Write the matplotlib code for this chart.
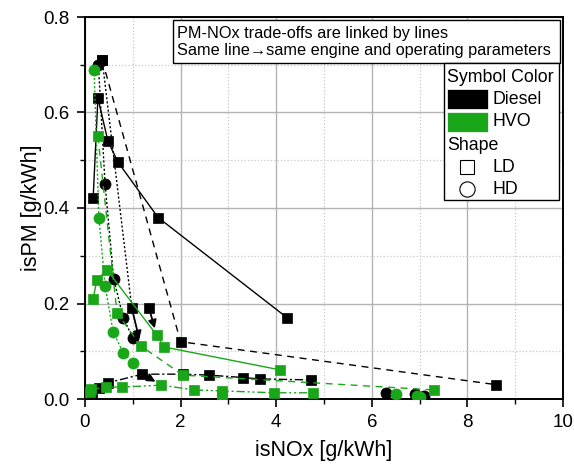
import matplotlib
matplotlib.use("Agg")
import matplotlib.pyplot as plt
from matplotlib.ticker import MultipleLocator, FormatStrFormatter
from matplotlib.patches import Rectangle
from matplotlib.lines import Line2D

plt.rcParams['font.family'] = ['Liberation Sans', 'DejaVu Sans']

BLACK = '#000000'
GREEN = '#19a619'

# Diesel LD, solid
d_ld_solid_x = [0.17, 0.27, 0.48, 0.69, 1.53, 4.23]
d_ld_solid_y = [0.42, 0.63, 0.54, 0.496, 0.38, 0.17]
# Diesel LD, dashed
d_ld_dash_x = [0.36, 2.0, 8.6]
d_ld_dash_y = [0.71, 0.12, 0.03]
# Diesel LD, dotted
d_ld_dot_x = [0.36, 0.98]
d_ld_dot_y = [0.71, 0.19]
# Diesel LD single point
d_ld_single_x = [1.34]
d_ld_single_y = [0.19]
# Diesel LD, dash-dot
d_ld_dd_x = [0.15, 0.29, 0.48, 1.2, 2.05, 2.6, 3.3, 3.66, 4.73]
d_ld_dd_y = [0.01, 0.023, 0.034, 0.052, 0.052, 0.05, 0.045, 0.042, 0.04]
# Diesel HD, dotted
d_hd_dot_x = [0.28, 0.42, 0.6, 0.8, 1.0]
d_hd_dot_y = [0.70, 0.45, 0.252, 0.17, 0.128]
# Diesel HD, points
d_hd_pts_x = [6.3, 6.9, 7.1]
d_hd_pts_y = [0.013, 0.011, 0.007]

# HVO LD, solid
h_ld_solid_x = [0.17, 0.25, 0.46, 1.5, 1.65, 4.08]
h_ld_solid_y = [0.21, 0.25, 0.27, 0.134, 0.109, 0.061]
# HVO LD, dashed
h_ld_dash_x = [0.27, 0.67, 1.17, 2.05, 7.3]
h_ld_dash_y = [0.55, 0.18, 0.111, 0.05, 0.019]
# HVO LD, dash-dot-dot
h_ld_ddd_x = [0.13, 0.44, 0.77, 1.6, 2.28, 2.86, 3.95, 4.77]
h_ld_ddd_y = [0.02, 0.025, 0.025, 0.029, 0.019, 0.017, 0.013, 0.013]
h_ld_extra_x = [0.1, 2.86]
h_ld_extra_y = [0.015, 0.008]
# HVO HD, dotted
h_hd_dot_x = [0.19, 0.29, 0.42, 0.59, 0.8, 1.0]
h_hd_dot_y = [0.69, 0.38, 0.237, 0.14, 0.097, 0.076]
# HVO HD points
h_hd_pts_x = [6.5, 6.95, 7.0]
h_hd_pts_y = [0.01, 0.006, 0.005]

# arrows Diesel -> HVO
arrow_from_x = [0.98, 1.34, 1.2]
arrow_from_y = [0.19, 0.19, 0.052]
arrow_to_x = [1.17, 1.5, 1.6]
arrow_to_y = [0.111, 0.134, 0.029]

note_text = 'PM-NOx trade-offs are linked by lines\nSame line\u2192same engine and operating parameters'
color_title = 'Symbol Color'
color_labels = ['Diesel', 'HVO']
shape_title = 'Shape'
shape_labels = ['LD', 'HD']

W, H = 574, 466
fig = plt.figure(figsize=(W / 100, H / 100), dpi=100)
ax = fig.add_axes([85 / W, 1 - 399 / H, 478 / W, 382 / H])


def fx(px):
    return px / W


def fy(py):
    return 1 - py / H


ms_sq = 7
ms_ci = 8
lw = 1.0


def series(x, y, color, marker, ls, ms):
    ax.plot(x, y, color=color, marker=marker, linestyle=ls, linewidth=lw,
            markersize=ms, markeredgewidth=0.5, markeredgecolor=color, zorder=3)


series(d_ld_solid_x, d_ld_solid_y, BLACK, 's', '-', ms_sq)
series(d_ld_dash_x, d_ld_dash_y, BLACK, 's', (0, (5, 4)), ms_sq)
series(d_ld_dot_x, d_ld_dot_y, BLACK, 's', (0, (1.5, 1.5)), ms_sq)
series(d_ld_single_x, d_ld_single_y, BLACK, 's', 'none', ms_sq)
series(d_ld_dd_x, d_ld_dd_y, BLACK, 's', (0, (6, 2, 1.5, 2)), ms_sq)
series(d_hd_dot_x, d_hd_dot_y, BLACK, 'o', (0, (1.5, 1.5)), ms_ci)
series(d_hd_pts_x, d_hd_pts_y, BLACK, 'o', 'none', ms_ci)

series(h_ld_solid_x, h_ld_solid_y, GREEN, 's', '-', ms_sq)
series(h_ld_dash_x, h_ld_dash_y, GREEN, 's', (0, (5, 4)), ms_sq)
series(h_ld_ddd_x, h_ld_ddd_y, GREEN, 's', (0, (6, 2, 1.5, 2, 1.5, 2)), ms_sq)
series(h_ld_extra_x, h_ld_extra_y, GREEN, 's', 'none', ms_sq)
series(h_hd_dot_x, h_hd_dot_y, GREEN, 'o', (0, (1.5, 1.5)), ms_ci)
series(h_hd_pts_x, h_hd_pts_y, GREEN, 'o', 'none', ms_ci)

for x0, y0, x1, y1 in zip(arrow_from_x, arrow_from_y, arrow_to_x, arrow_to_y):
    ax.annotate('', xy=(x1, y1), xytext=(x0, y0),
                arrowprops=dict(arrowstyle='-|>', color='black', lw=1.3,
                                mutation_scale=12, shrinkA=4, shrinkB=5),
                zorder=4)

ax.set_xlim(0, 10)
ax.set_ylim(0, 0.8)
ax.xaxis.set_major_locator(MultipleLocator(2))
ax.xaxis.set_minor_locator(MultipleLocator(1))
ax.yaxis.set_major_locator(MultipleLocator(0.2))
ax.yaxis.set_minor_locator(MultipleLocator(0.1))
ax.xaxis.set_major_formatter(FormatStrFormatter('%d'))
ax.yaxis.set_major_formatter(FormatStrFormatter('%.1f'))
ax.grid(which='major', color='#b4b4b4', linestyle='-', linewidth=1.0, zorder=0)
ax.grid(which='minor', color='#c8c8c8', linestyle=':', linewidth=0.9, zorder=0)
ax.set_axisbelow(True)
ax.tick_params(which='major', direction='out', length=6, width=1.2,
               labelsize=13.5, pad=5)
ax.tick_params(which='minor', direction='out', length=3.5, width=1.0)
for s in ax.spines.values():
    s.set_linewidth(1.4)
ax.set_xlabel('isNOx [g/kWh]', fontsize=15.5, labelpad=6)
ax.set_ylabel('isPM [g/kWh]', fontsize=15.5, labelpad=1)

# note box
fig.patches.append(Rectangle((fx(173), fy(63)), fx(560) - fx(173), fy(20) - fy(63),
                             transform=fig.transFigure, facecolor='white',
                             edgecolor='black', linewidth=1.0, zorder=5))
fig.text(fx(177), fy(42), note_text, ha='left', va='center', fontsize=11.7,
         linespacing=1.2, zorder=6)

# manual legend
fig.patches.append(Rectangle((fx(444), fy(200)), fx(559) - fx(444), fy(63) - fy(200),
                             transform=fig.transFigure, facecolor='white',
                             edgecolor='black', linewidth=1.0, zorder=5))
fs_leg = 12.8
fig.text(fx(447), fy(78), color_title, ha='left', va='center', fontsize=fs_leg, zorder=6)
for i, (lab, col) in enumerate(zip(color_labels, [BLACK, GREEN])):
    yc = 99 + 23 * i
    fig.patches.append(Rectangle((fx(447), fy(yc + 10)), fx(488) - fx(447), fy(yc - 10) - fy(yc + 10),
                                 transform=fig.transFigure, facecolor=col,
                                 edgecolor='white', linewidth=0.5, zorder=6))
    fig.text(fx(493), fy(yc), lab, ha='left', va='center', fontsize=fs_leg, zorder=6)
fig.text(fx(447), fy(145), shape_title, ha='left', va='center', fontsize=fs_leg, zorder=6)
for i, (lab, mk, msz) in enumerate(zip(shape_labels, ['s', 'o'], [9.5, 11])):
    yc = 167 + 22 * i
    fig.add_artist(Line2D([fx(467)], [fy(yc)], transform=fig.transFigure, marker=mk,
                          markersize=msz, markerfacecolor='white', markeredgecolor='black',
                          markeredgewidth=0.8, linestyle='none', zorder=6))
    fig.text(fx(493), fy(yc), lab, ha='left', va='center', fontsize=fs_leg, zorder=6)

fig.savefig('out.png', dpi=100)
